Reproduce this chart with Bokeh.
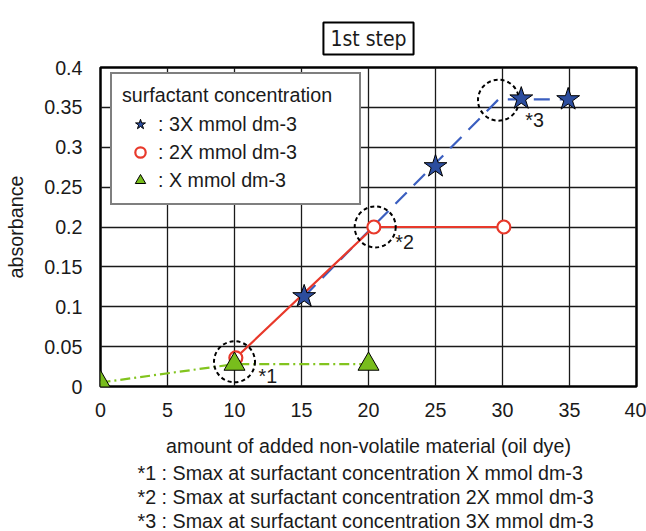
from bokeh.plotting import figure
from bokeh.models import (FixedTicker, Legend, LegendItem, ColumnDataSource,
                          Range1d, LabelSet, Title)
from bokeh.core.properties import value
from bokeh.embed import file_html
from bokeh.resources import INLINE

FONT = "Liberation Sans"
FS = "19.7px"

# ---- data ----
x_ticks = [0, 5, 10, 15, 20, 25, 30, 35, 40]
y_ticks = [0, 0.05, 0.1, 0.15, 0.2, 0.25, 0.3, 0.35, 0.4]
y_tick_labels = ["0", "0.05", "0.1", "0.15", "0.2", "0.25", "0.3", "0.35", "0.4"]

x1_x = [0, 10, 20]
x1_y = [0.005, 0.028, 0.028]

x2_x = [10.1, 20.4, 30.1]
x2_y = [0.036, 0.2, 0.2]

x3_x = [15.2, 25.0, 31.4, 34.9]
x3_y = [0.113, 0.276, 0.361, 0.360]
x3_line_x = [15.2, 29.7, 34.9]
x3_line_y = [0.113, 0.36, 0.36]

smax_x = [10.0, 20.5, 29.7]
smax_y = [0.031, 0.2, 0.359]
smax_names = ["*1", "*2", "*3"]
smax_label_x = [11.8, 22.0, 31.7]
smax_label_y = [0.0135, 0.181, 0.334]

series_names = [": 3X mmol dm-3", ": 2X mmol dm-3", ": X mmol dm-3"]
legend_title = "surfactant concentration"
x_label = "amount of added non-volatile material (oil dye)"
y_label = "absorbance"
chart_title = "1st step"
footnotes = [
    "*1 : Smax at surfactant concentration X mmol dm-3",
    "*2 : Smax at surfactant concentration 2X mmol dm-3",
    "*3 : Smax at surfactant concentration 3X mmol dm-3",
]

BLUE = "#2c4d9e"
BLUE_LINE = "#3b5fc0"
RED = "#e8392b"
GREEN = "#78bd1c"
GREEN_LINE = "#82c41e"
INK = "#1a1a1a"

p = figure(width=646, height=531, output_backend="svg", toolbar_location=None,
           x_range=Range1d(0, 40), y_range=Range1d(0, 0.4),
           min_border_left=100, min_border_right=10, min_border_top=67,
           min_border_bottom=143)
p.background_fill_color = "white"
p.border_fill_color = "white"
p.outline_line_color = "black"
p.outline_line_width = 2.5

p.xaxis.ticker = FixedTicker(ticks=x_ticks)
p.yaxis.ticker = FixedTicker(ticks=y_ticks)
p.yaxis.major_label_overrides = {t: l for t, l in zip(y_ticks, y_tick_labels)}
for ax in (p.xaxis, p.yaxis):
    ax.axis_line_color = None
    ax.major_tick_line_color = None
    ax.minor_tick_line_color = None
    ax.major_tick_out = 0
    ax.major_tick_in = 0
    ax.major_label_text_font = FONT
    ax.major_label_text_font_size = FS
    ax.major_label_text_color = INK
    ax.axis_label_text_font = FONT
    ax.axis_label_text_font_size = FS
    ax.axis_label_text_font_style = "normal"
    ax.axis_label_text_color = INK
p.xaxis.axis_label = x_label
p.yaxis.axis_label = y_label
p.xaxis.major_label_standoff = 16
p.xaxis.axis_label_standoff = 15
p.yaxis.major_label_standoff = 18
p.yaxis.axis_label_standoff = 14

p.xgrid.ticker = FixedTicker(ticks=x_ticks)
p.ygrid.ticker = FixedTicker(ticks=y_ticks)
for g in (p.xgrid, p.ygrid):
    g.grid_line_color = INK
    g.grid_line_width = 1.3
    g.grid_line_alpha = 1.0

# lines
p.line(x1_x, x1_y, line_color=GREEN_LINE, line_width=2.2, line_dash="10 4 2 4")
p.line(x3_line_x, x3_line_y, line_color=BLUE_LINE, line_width=2.2, line_dash="16 10")
p.line(x2_x, x2_y, line_color=RED, line_width=2.2)

# Smax dashed circles
p.scatter(smax_x, smax_y, marker="circle", size=41, fill_color=None,
          line_color="black", line_width=2, line_dash="4 3")

# markers
r3 = p.scatter(x3_x, x3_y, marker="star", size=24, fill_color=BLUE,
               line_color="black", line_width=1)
r2 = p.scatter(x2_x, x2_y, marker="circle", size=13, fill_color="white",
               line_color=RED, line_width=2.2)
r1 = p.scatter(x1_x, x1_y, marker="triangle", size=21, fill_color=GREEN,
               line_color="black", line_width=1)

# Smax labels
src = ColumnDataSource(dict(x=smax_label_x, y=smax_label_y, t=smax_names))
p.add_layout(LabelSet(x="x", y="y", text="t", source=src, text_font=value(FONT),
                      text_font_size=value(FS), text_baseline="middle",
                      text_color=INK))

legend = Legend(items=[LegendItem(label=series_names[0], renderers=[r3]),
                       LegendItem(label=series_names[1], renderers=[r2]),
                       LegendItem(label=series_names[2], renderers=[r1])],
                title=legend_title + "\u00a0\u00a0\u00a0",
                location=(10, 181))
legend.title_text_font = FONT
legend.title_text_font_size = FS
legend.title_text_font_style = "normal"
legend.title_text_color = INK
legend.label_text_font = FONT
legend.label_text_font_size = FS
legend.label_text_color = INK
legend.padding = 10
legend.margin = 0
legend.glyph_width = 36
legend.glyph_height = 26
legend.label_height = 26
legend.label_standoff = 0
legend.spacing = 2
legend.title_standoff = 4
legend.border_line_color = "black"
legend.border_line_width = 2.5
legend.background_fill_color = "white"
legend.background_fill_alpha = 1.0
p.add_layout(legend)

# title box
t = Title(text=chart_title, align="center", vertical_align="top",
          text_font="'DejaVu Sans Condensed', 'Liberation Sans Narrow', 'Liberation Sans', sans-serif",
          text_font_size="21px", text_font_style="normal", text_color=INK,
          border_line_color="black", border_line_width=2,
          background_fill_color="white", padding=(7, 4), standoff=22)
p.add_layout(t, "above")

# footnotes
for i, ftxt in enumerate(footnotes):
    p.add_layout(Title(text=ftxt, align="left", offset=37, text_font=FONT,
                       text_font_size=FS, text_font_style="normal", text_color=INK,
                       standoff=0), "below")

open("out.html", "w").write(file_html(p, INLINE))
